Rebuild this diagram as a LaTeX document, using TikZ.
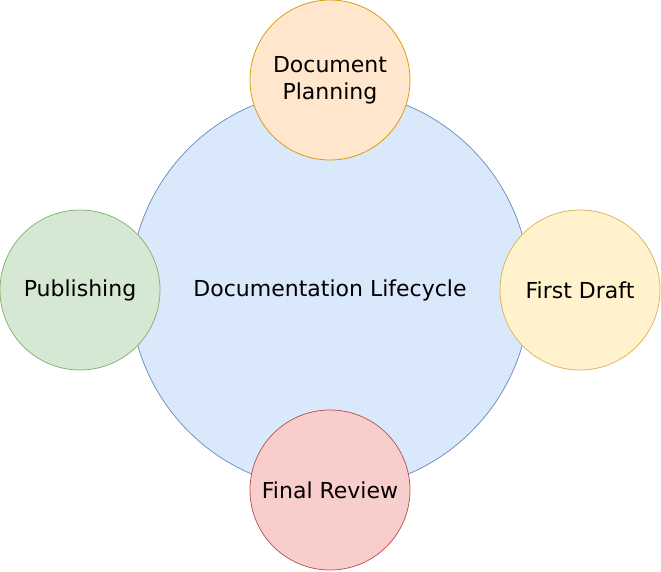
\documentclass[tikz,border=0pt]{standalone}
\usepackage{fontspec}
\setmainfont{DejaVu Sans}
\definecolor{lifefill}{HTML}{DAE8FC}
\definecolor{lifedraw}{HTML}{6C8EBF}
\definecolor{planfill}{HTML}{FFE6CC}
\definecolor{plandraw}{HTML}{D79B00}
\definecolor{draftfill}{HTML}{FFF2CC}
\definecolor{draftdraw}{HTML}{D6B656}
\definecolor{revfill}{HTML}{F8CECC}
\definecolor{revdraw}{HTML}{B85450}
\definecolor{pubfill}{HTML}{D5E8D4}
\definecolor{pubdraw}{HTML}{82B366}
\begin{document}
\begin{tikzpicture}[x=1pt,y=1pt,node distance=200pt,line width=0.75pt,
  font=\fontsize{22}{27}\selectfont,
  hub/.style={circle,draw=lifedraw,fill=lifefill,minimum size=400pt,inner sep=0pt},
  stage/.style={circle,minimum size=160pt,inner sep=0pt,align=center}]
			\useasboundingbox (-330,-281) rectangle (331,290);
			\node[hub] (life) at (0,0) {Documentation Lifecycle};
			\node[stage,draw=plandraw,fill=planfill] (plan) [above of=life,yshift=10pt] {Document\\Planning};
			\node[stage,draw=draftdraw,fill=draftfill] (draft) [right of=life,xshift=50pt] {First Draft};
			\node[stage,draw=revdraw,fill=revfill] (review) [below of=life] {Final Review};
			\node[stage,draw=pubdraw,fill=pubfill] (pub) [left of=life,xshift=-50pt] {Publishing};
		\end{tikzpicture}
\end{document}
